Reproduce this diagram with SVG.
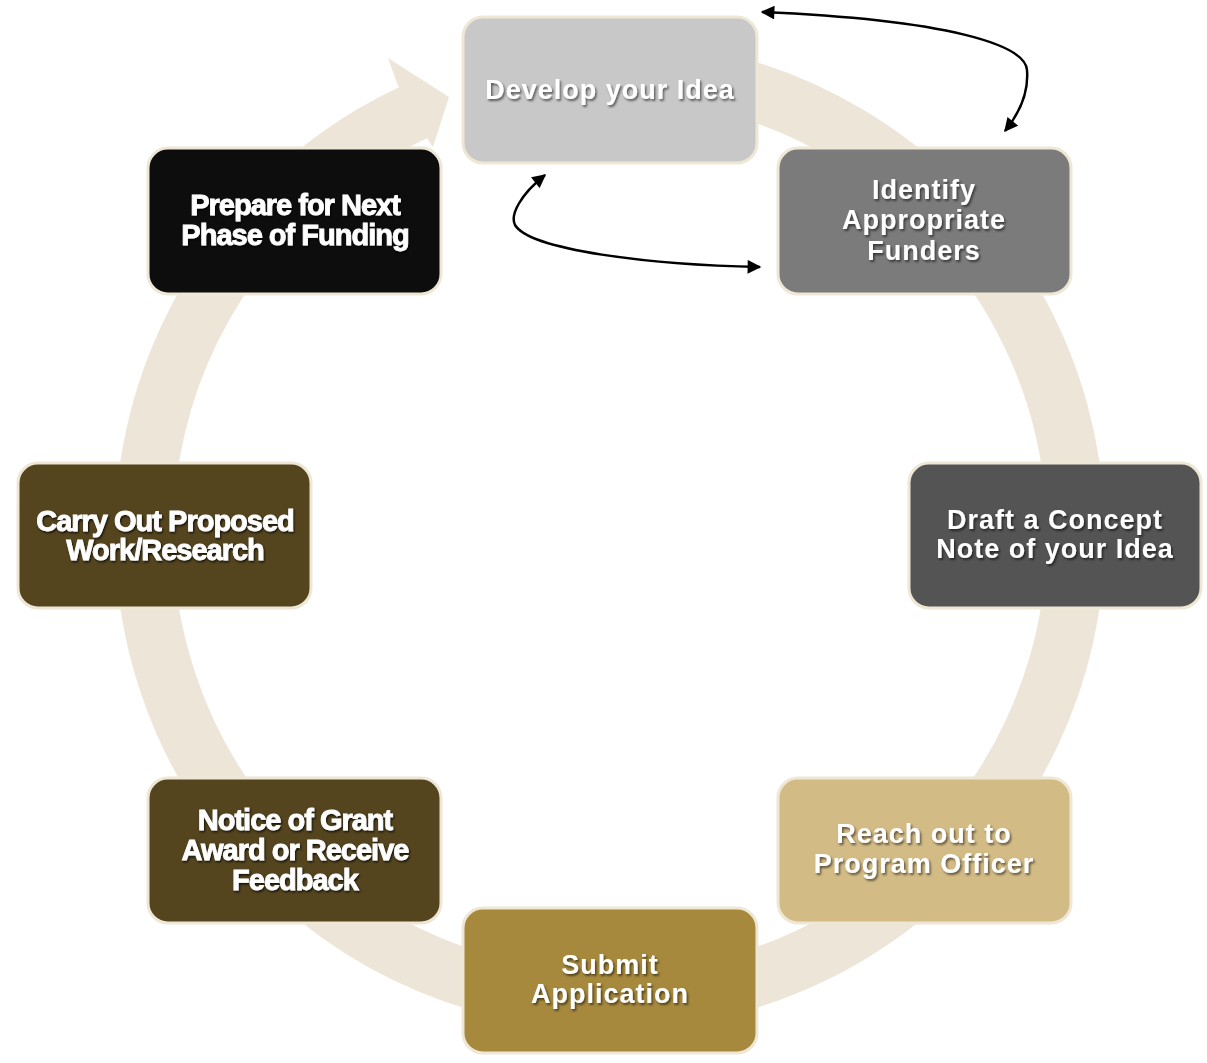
<svg xmlns="http://www.w3.org/2000/svg" width="1207" height="1063" viewBox="0 0 1207 1063">
<style>
.node{stroke:#EFE7D5;stroke-width:3}
.t{font-family:"Liberation Sans",Arial,sans-serif;font-weight:bold;fill:#FFFFFF;text-anchor:middle}
.r{font-size:27px;letter-spacing:1px;filter:url(#sh)}
.l{font-size:29px;letter-spacing:-1px;stroke:#FFFFFF;stroke-width:0.8;filter:url(#sh2)}
.conn{fill:none;stroke:#000;stroke-width:2.5}
</style>
<defs>
<filter id="sh" x="-10%" y="-30%" width="120%" height="160%">
<feDropShadow dx="1.5" dy="2" stdDeviation="1.2" flood-color="#000" flood-opacity="0.55"/>
</filter>
<filter id="sh2" x="-10%" y="-30%" width="120%" height="160%">
<feDropShadow dx="1" dy="1.5" stdDeviation="0.8" flood-color="#000" flood-opacity="0.8"/>
</filter>
<marker id="ah" viewBox="0 0 10 10" refX="9" refY="5" markerWidth="6" markerHeight="5.5" markerUnits="strokeWidth" orient="auto-start-reverse">
<path d="M0,0 L10,5 L0,10 Z" fill="#000"/>
</marker>
</defs>
<rect width="1207" height="1063" fill="#FFFFFF"/>
<g id="cycle">
<path d="M 650.6,70.8 A 466 466 0 1 1 415.3,111.6" fill="none" stroke="#EDE6D8" stroke-width="58"/>
<polygon points="397,83 388,58 449,97 433,147 420,128" fill="#EDE6D8"/>
</g>
<g id="n1"><rect class="node" x="463" y="17" width="294" height="146" rx="20" fill="#C8C8C8"/>
<text class="t r" x="610" y="99">Develop your Idea</text></g>
<g id="n2"><rect class="node" x="778" y="148" width="293" height="146" rx="20" fill="#7B7B7B"/>
<text class="t r" x="924" y="199">Identify</text><text class="t r" x="924" y="229">Appropriate</text><text class="t r" x="924" y="260">Funders</text></g>
<g id="n3"><rect class="node" x="909" y="463" width="292" height="145" rx="20" fill="#545454"/>
<text class="t r" x="1055" y="529">Draft a Concept</text><text class="t r" x="1055" y="558">Note of your Idea</text></g>
<g id="n4"><rect class="node" x="778" y="778" width="293" height="145" rx="20" fill="#D3BB85"/>
<text class="t r" x="924" y="843">Reach out to</text><text class="t r" x="924" y="873">Program Officer</text></g>
<g id="n5"><rect class="node" x="463" y="908" width="294" height="145" rx="20" fill="#A6893C"/>
<text class="t r" x="610" y="974">Submit</text><text class="t r" x="610" y="1003">Application</text></g>
<g id="n6"><rect class="node" x="148" y="778" width="293" height="145" rx="20" fill="#54451F"/>
<text class="t l" x="295" y="830">Notice of Grant</text><text class="t l" x="295" y="860">Award or Receive</text><text class="t l" x="295" y="890">Feedback</text></g>
<g id="n7"><rect class="node" x="18" y="463" width="293" height="145" rx="20" fill="#54451F"/>
<text class="t l" x="165" y="531">Carry Out Proposed</text><text class="t l" x="165" y="560">Work/Research</text></g>
<g id="n8"><rect class="node" x="148" y="148" width="293" height="146" rx="20" fill="#0D0D0D"/>
<text class="t l" x="295" y="215">Prepare for Next</text><text class="t l" x="295" y="245">Phase of Funding</text></g>
<g id="connectors">
<path class="conn" d="M 762,12 C 950,20 1025,45 1027,70 C 1029,95 1018,115 1005,131" marker-start="url(#ah)" marker-end="url(#ah)"/>
<path class="conn" d="M 545,175 C 520,195 510,215 515,225 C 530,250 650,265 760,267" marker-start="url(#ah)" marker-end="url(#ah)"/>
</g>
</svg>
